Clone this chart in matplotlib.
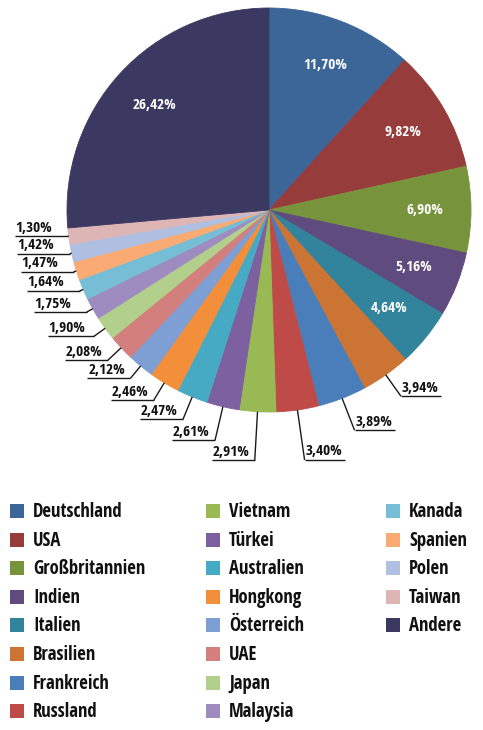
import numpy as np
import matplotlib
matplotlib.use("Agg")
import matplotlib.pyplot as plt

# Datos: Anteil je Land (%)
laender = ["Deutschland", "USA", "Großbritannien", "Indien", "Italien",
           "Brasilien", "Frankreich", "Russland", "Vietnam", "Türkei",
           "Australien", "Hongkong", "Österreich", "UAE", "Japan",
           "Malaysia", "Kanada", "Spanien", "Polen", "Taiwan", "Andere"]
anteile = [11.70, 9.82, 6.90, 5.16, 4.64, 3.94, 3.89, 3.40, 2.91, 2.61,
           2.47, 2.46, 2.12, 2.08, 1.90, 1.75, 1.64, 1.47, 1.42, 1.30, 26.42]
farben = ["#3C6598", "#963C3B", "#77933C", "#5F4B7E", "#31849B",
          "#CB7434", "#4A7EBB", "#BE4B48", "#98B954", "#7D60A0",
          "#46AAC5", "#F38E3A", "#7D9FD3", "#D27F7D", "#B3CF8C",
          "#9E8CC1", "#76BDD6", "#F9AB73", "#AEBFE2", "#DDB5B5", "#3B3862"]

# Layout (Pixel-Koordinaten, y nach oben)
W, H = 483, 730
CX, CY, R = 269, 730 - 210, 202
innen = {"Deutschland", "USA", "Großbritannien", "Indien", "Italien", "Andere"}
# Abstand der Beschriftung (Vielfaches des Radius) fuer aussen liegende Labels
leader = {"Brasilien": 1.13, "Frankreich": 1.17, "Russland": 1.25,
          "Vietnam": 1.24, "Türkei": 1.17, "Australien": 1.12,
          "Hongkong": 1.10, "Österreich": 1.08, "UAE": 1.09, "Japan": 1.07,
          "Malaysia": 1.035, "Kanada": 1.02, "Spanien": 1.015,
          "Polen": 1.01, "Taiwan": 1.005}

plt.rcParams["font.family"] = ["Open Sans Condensed", "DejaVu Sans"]
plt.rcParams["font.weight"] = "bold"


def fmt(v):
    return f"{v:.2f}".replace(".", ",") + "%"


fig = plt.figure(figsize=(W / 100, H / 100), dpi=100)
ax = fig.add_axes([0, 0, 1, 1])

wedges, _ = ax.pie(anteile, colors=farben, startangle=90, counterclock=False,
                   radius=R, center=(CX, CY), wedgeprops=dict(linewidth=0.6))
for w, c in zip(wedges, farben):
    w.set_edgecolor(c)

for w, name, v in zip(wedges, laender, anteile):
    mid = np.deg2rad((w.theta1 + w.theta2) / 2)
    if name in innen:
        x = CX + 0.77 * R * np.cos(mid)
        y = CY + 0.77 * R * np.sin(mid)
        ax.text(x, y, fmt(v), color="white", fontsize=11, ha="center",
                va="center", fontweight="bold")
        continue
    ex, ey = CX + R * np.cos(mid), CY + R * np.sin(mid)
    f = leader[name]
    ax_, ay_ = CX + f * R * np.cos(mid), CY + f * R * np.sin(mid)
    ax.plot([ex, ax_], [ey, ay_], color="#1a1a1a", lw=1.0, solid_capstyle="butt")
    deg = (90 - np.rad2deg(mid)) % 360  # Grad im Uhrzeigersinn von oben
    if np.cos(mid) >= -0.05 and deg < 180:
        x0, x1 = ax_, ax_ + 40
        tx = ax_ + 1
    else:
        lw_ = 43 if deg < 230 else (46 if deg < 240 else 53)
        x0, x1 = ax_ - lw_, ax_
        tx = x0 + 1
    ax.plot([x0, x1], [ay_, ay_], color="#1a1a1a", lw=1.0, solid_capstyle="butt")
    ax.text(tx, ay_ + 1.5, fmt(v), color="#111111", fontsize=11,
            ha="left", va="bottom", fontweight="bold")

# Legende: 3 Spalten, 8 Zeilen, spaltenweise
col_x = [11, 207, 387]
row_y0, row_dy = 730 - 511, 28.6
for i, (name, c) in enumerate(zip(laender, farben)):
    col, row = i // 8, i % 8
    x = col_x[col]
    y = row_y0 - row * row_dy
    ax.scatter([x + 6], [y], marker="s", s=110, color=c, linewidths=0)
    ax.text(x + 22, y - 1, name, fontsize=13.5, ha="left", va="center",
            fontweight="bold", color="#111111")

ax.set_xlim(0, W)
ax.set_ylim(0, H)
ax.set_aspect("equal")
ax.axis("off")

plt.savefig("out.png", dpi=100)
